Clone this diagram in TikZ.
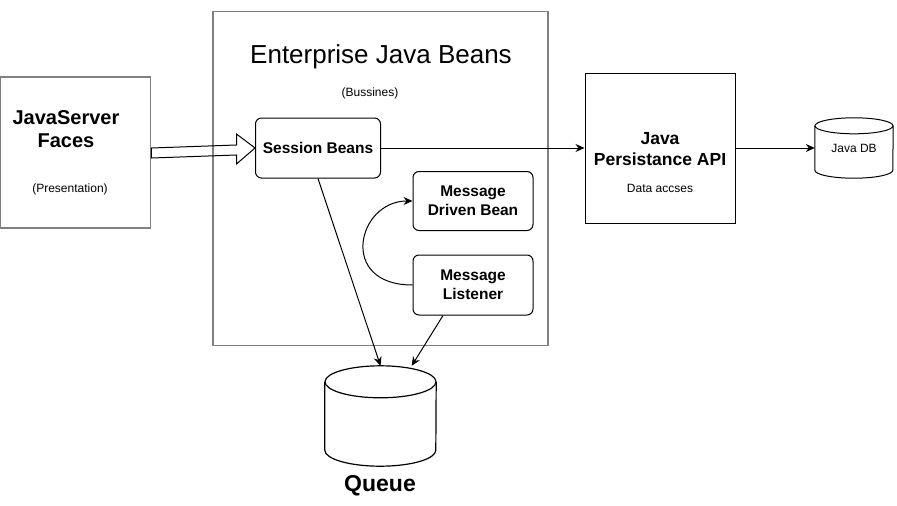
\documentclass[tikz,border=0pt]{standalone}
\usepackage{fontspec}
\setmainfont{Liberation Sans}
\usetikzlibrary{arrows.meta,positioning,calc}

\newcommand{\pxfont}[2]{\fontsize{#1}{#2}\selectfont}

\begin{document}
\begin{tikzpicture}[x=1pt, y=-1pt,
    box/.style={draw, line width=1pt, minimum width=150pt, minimum height=150pt, inner sep=0pt},
    frame/.style={draw=gray, line width=1.5pt, inner sep=0pt},
    bean/.style={draw, rounded corners=6pt, line width=1pt, align=center, inner sep=0pt, font=\bfseries\pxfont{15.5}{19}},
    dbnode/.style={inner sep=0pt},
    dbline/.style={line width=1.2pt},
    arrow/.style={-{Stealth[length=9pt,width=8pt,inset=3pt]}, line width=1pt}
]
    \useasboundingbox (0,0) rectangle (897,506);

    % Presentation layer
    \node[frame, minimum width=150pt, minimum height=151pt] (jsf) at (75.5,152.5) {};
    \node[font=\bfseries\pxfont{20}{23.5}, align=center] (jsftitle) at (66,129) {JavaServer\\Faces};
    \node[font=\pxfont{12}{14}] (jsfsub) at (70,189) {(Presentation)};

    % Business layer
    \node[frame, minimum width=335pt, minimum height=334pt] (ejb) at (380.5,178.5) {};
    \node[font=\pxfont{26}{30}] (ejbtitle) at (381,57) {Enterprise Java Beans};
    \node[font=\pxfont{12}{14}] (ejbsub) at (370,93) {(Bussines)};

    \node[bean, minimum width=125pt, minimum height=60pt] (sb) at (318,148) {Session Beans};
    \node[bean, minimum width=120pt, minimum height=59pt] (mdb) at (473,201) {Message\\Driven Bean};
    \node[bean, minimum width=120pt, minimum height=60pt] (ml) at (473,285) {Message\\Listener};

    % Data layer
    \node[box] (jpa) at (660,148) {};
    \node[font=\bfseries\pxfont{17.5}{21}, align=center] (jpatitle) at (660,149) {Java\\Persistance API};
    \node[font=\pxfont{12}{14}] (jpasub) at (660,188) {Data accses};

    % Storage
    \node[dbnode, minimum width=78pt, minimum height=60pt, font=\pxfont{12}{14}] (javadb) at (854,148) {Java DB};
    \draw[dbline, line width=1pt] ($(javadb.north)+(0,8)$) ellipse [x radius=39pt, y radius=8pt];
    \draw[dbline, line width=1pt] ($(javadb.north west)+(0,8)$) -- ($(javadb.south west)+(0,-8)$)
        arc [start angle=180, end angle=360, x radius=39pt, y radius=8pt] -- ($(javadb.north east)+(0,8)$);

    \node[dbnode, minimum width=111pt, minimum height=100pt] (queue) at (380.5,416) {};
    \draw[dbline] ($(queue.north)+(0,16)$) ellipse [x radius=55.5pt, y radius=16pt];
    \draw[dbline] ($(queue.north west)+(0,16)$) -- ($(queue.south west)+(0,-16)$)
        arc [start angle=180, end angle=360, x radius=55.5pt, y radius=16pt] -- ($(queue.north east)+(0,16)$);
    \node[font=\bfseries\pxfont{23}{26}] (queuelabel) at (380,486) {Queue};

    % Hollow arrow
    \draw[line width=1pt] ($(jsf.east)+(0,-4.5)$) -- ($(sb.west)+(-18.5,-3)$) -- ($(sb.west)+(-18.5,-14)$)
        -- (sb.west) -- ($(sb.west)+(-18.5,16)$) -- ($(sb.west)+(-18.5,7)$) -- ($(jsf.east)+(0,5.5)$) -- cycle;

    % Connectors
    \draw[arrow] (sb.east) -- (jpa.west);
    \draw[arrow] (jpa.east) -- (javadb.west);
    \draw[arrow] (sb.south) -- (queue.north);
    \draw[arrow] ([xshift=-30pt]ml.south) -- (queue);
    \draw[arrow] (ml.west) .. controls +(-75,0) and +(-55,0) .. (mdb.west);
\end{tikzpicture}
\end{document}
